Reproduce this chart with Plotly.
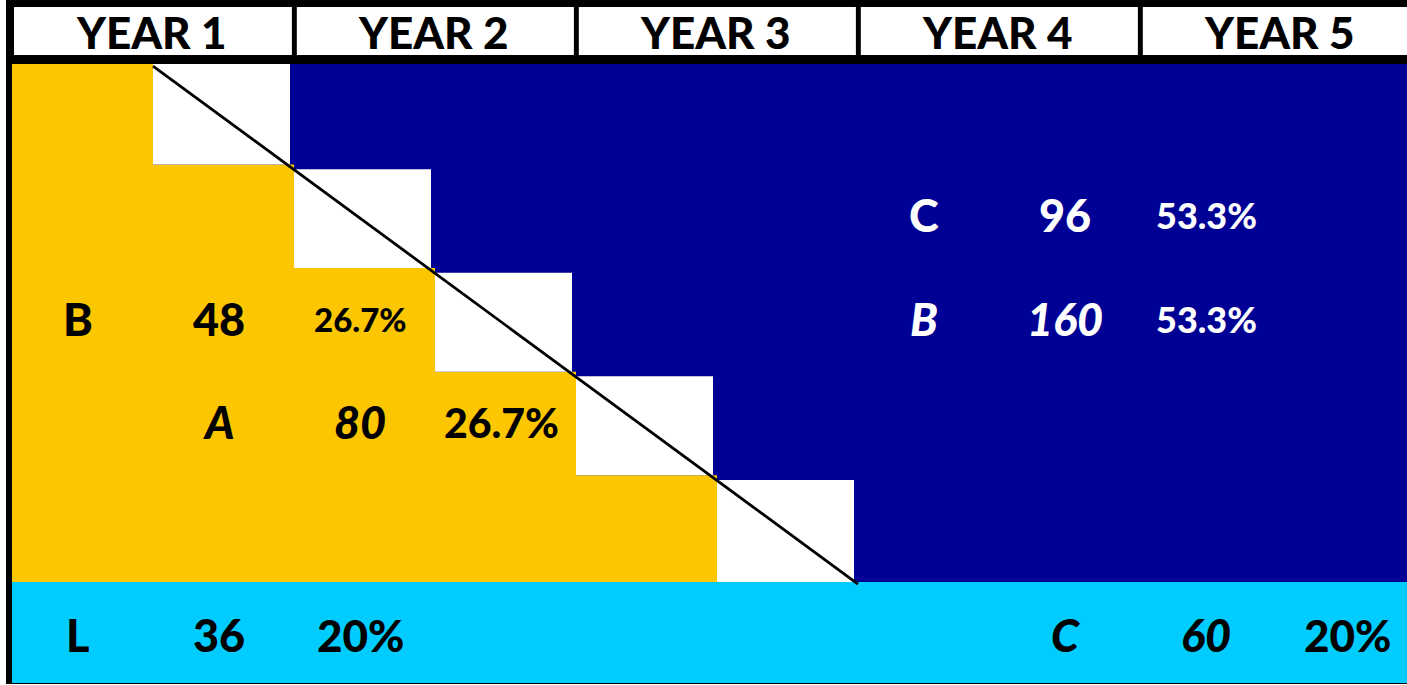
import plotly.graph_objects as go

# ---------------- data ----------------
years = ["YEAR 1", "YEAR 2", "YEAR 3", "YEAR 4", "YEAR 5"]
n_steps = 5  # staircase steps (half-year columns)

left_letters = ["B", "A"]
left_values = [48, 80]
left_shares = ["26.7%", "26.7%"]
left_rows = [2, 3]
left_cols = [0, 1]

right_letters = ["C", "B"]
right_values = [96, 160]
right_shares = ["53.3%", "53.3%"]
right_rows = [1, 2]
right_cols = [6, 6]

band_letters = ["L", "C"]
band_values = [36, 60]
band_shares = ["20%", "20%"]
band_cols = [0, 7]

# ---------------- styles / layout ----------------
W, H = 1407, 685
COL_PX, ROW_PX = 141.0, 103.6
X0_PX, Y0_PX = 12.0, 64.0

def gx(px):
    return (px - X0_PX) / COL_PX

def gy(px):
    return (px - Y0_PX) / ROW_PX

YELLOW = "#FCC600"
NAVY = "#000094"
CYAN = "#00CCFF"
FONT = "Lato"

left_italic = [False, True]
left_share_size = [33, 41]
right_italic = [False, True]
band_italic = [False, True]
BIG = 45
SQ_W = 137 / COL_PX   # white square width (grid units)
SQ_B = 0.97           # white square bottom within its row

XMAX = gx(W)
shapes = []

def rect(x0, x1, y0, y1, color):
    shapes.append(dict(type="rect", xref="x", yref="y", x0=x0, x1=x1, y0=y0, y1=y1,
                       fillcolor=color, line=dict(width=0), layer="above"))

# black frame
rect(gx(6), XMAX + 1, gy(0) - 0.1, gy(684), "black")
# header cells
for i, _ in enumerate(years):
    left = 2 * i + (gx(14) if i == 0 else 0.02)
    rect(left, 2 * i + 2 - 0.015, gy(7), gy(55), "white")
# navy field
rect(0, XMAX + 1, 0, n_steps, NAVY)
# yellow staircase as one polygon
pts = [(0, 0)]
for k in range(n_steps):
    top = 0 if k == 0 else k - 1 + SQ_B
    pts += [(k + 1, top)]
    if k < n_steps - 1:
        pts += [(k + 1, k + SQ_B)]
    else:
        pts += [(k + 1, n_steps)]
pts += [(0, n_steps)]
path = "M " + " L ".join(f"{x},{y}" for x, y in pts) + " Z"
shapes.append(dict(type="path", xref="x", yref="y", path=path, fillcolor=YELLOW,
                   line=dict(width=0), layer="above"))
# white squares
for k in range(n_steps):
    top = k + (0.015 if k > 0 else 0)
    bottom = n_steps if k == n_steps - 1 else k + SQ_B
    rect(k + 1, k + 1 + SQ_W, top, bottom, "white")
# cyan band
rect(0, XMAX + 1, n_steps, gy(683), CYAN)
# diagonal
shapes.append(dict(type="line", xref="x", yref="y", x0=1, y0=0.02, x1=n_steps + 1, y1=n_steps + 0.02,
                   line=dict(color="black", width=2.8), layer="above"))

annotations = []

def txt(x, y, s, size, color, italic=False):
    annotations.append(dict(x=x, y=y, xref="x", yref="y", text=str(s), showarrow=False,
                            xanchor="center", yanchor="middle",
                            font=dict(family=FONT, size=size, color=color, weight=900,
                                      style="italic" if italic else "normal")))

XOFF = 0.47
YOFF = 0.46
for i, y in enumerate(years):
    txt(2 * i + 1 - 0.01, gy(32), y, 44, "black")

for i in range(len(left_letters)):
    c, r = left_cols[i], left_rows[i]
    txt(c + XOFF, r + YOFF, left_letters[i], BIG, "black", left_italic[i])
    txt(c + 1 + XOFF, r + YOFF, left_values[i], BIG, "black", left_italic[i])
    txt(c + 2 + XOFF, r + YOFF, left_shares[i], left_share_size[i], "black")

for i in range(len(right_letters)):
    c, r = right_cols[i], right_rows[i]
    txt(c + XOFF, r + YOFF, right_letters[i], BIG, "white", right_italic[i])
    txt(c + 1 + XOFF, r + YOFF, right_values[i], BIG, "white", right_italic[i])
    txt(c + 2 + XOFF, r + YOFF, right_shares[i], 36, "white")

for i in range(len(band_letters)):
    c = band_cols[i]
    txt(c + XOFF, gy(635), band_letters[i], BIG, "black", band_italic[i])
    txt(c + 1 + XOFF, gy(635), band_values[i], BIG, "black", band_italic[i])
    txt(c + 2 + XOFF, gy(635), band_shares[i], 44, "black")

fig = go.Figure()
fig.update_layout(
    width=W, height=H, margin=dict(l=0, r=0, t=0, b=0),
    paper_bgcolor="white", plot_bgcolor="white",
    xaxis=dict(range=[gx(0), gx(W)], visible=False, fixedrange=True),
    yaxis=dict(range=[gy(H), gy(0)], visible=False, fixedrange=True),
    shapes=shapes, annotations=annotations, showlegend=False,
)
fig.write_html("out.html", config={"displayModeBar": False},
               post_script="document.body.style.margin='0';document.body.style.overflow='hidden';")
